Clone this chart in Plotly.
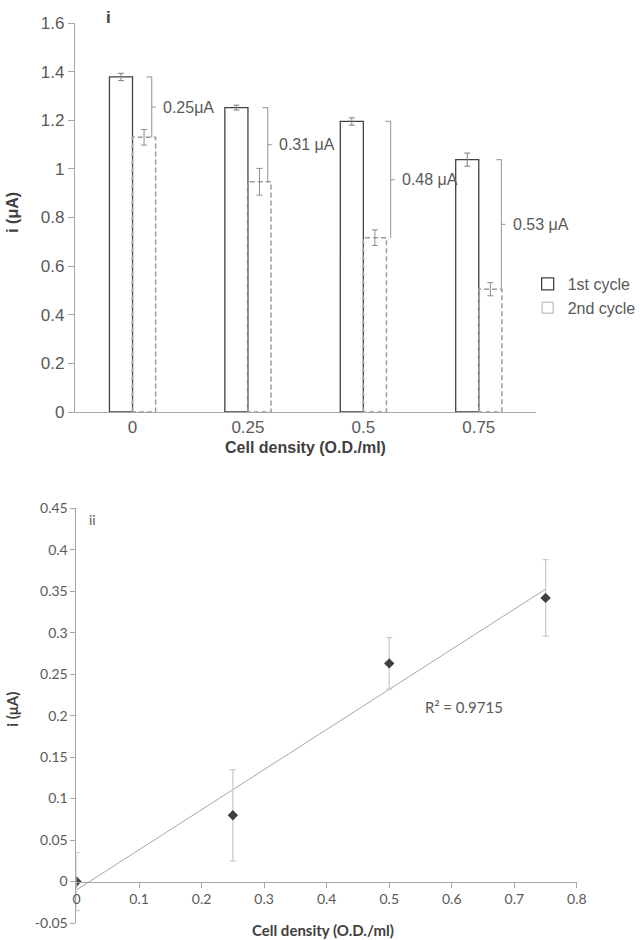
import numpy as np
import plotly.graph_objects as go

# panel i: current for two cycles at each cell density
densities = ["0", "0.25", "0.5", "0.75"]
first_cycle = [1.378, 1.252, 1.195, 1.038]
first_err = [0.015, 0.01, 0.015, 0.027]
second_cycle = [1.13, 0.947, 0.717, 0.505]
second_err = [0.032, 0.055, 0.032, 0.027]
drop_labels = ["0.25μA", "0.31 μA", "0.48 μA", "0.53 μA"]
bracket_pos = [0.166, 0.171, 0.236, 0.196]

# panel ii: current drop vs cell density
od = [0, 0.25, 0.5, 0.75]
signal = [0.0, 0.08, 0.263, 0.342]
signal_err = [0.035, 0.055, 0.031, 0.046]
y2_ticks = [-0.05, 0, 0.05, 0.1, 0.15, 0.2, 0.25, 0.3, 0.35, 0.4, 0.45]
y2_text = ["-0.05", "0", "0.05", "0.1", "0.15", "0.2", "0.25", "0.3", "0.35", "0.4", "0.45"]
r2_text = "R² = 0.9715"

W, H = 641, 940
TXT = "#595959"
AX = "#a6a6a6"
ARIAL = "Liberation Sans"
CALIBRI = "Lato"


def px(x):
    return x / W


def py(y):
    return 1 - y / H


pos = np.arange(len(densities))
fig = go.Figure()

fig.add_trace(go.Bar(
    x=pos - 0.1, y=first_cycle, width=0.2, name="1st cycle",
    marker=dict(color="white", line=dict(color="#404040", width=1.3)),
    error_y=dict(type="data", array=first_err, color="#7f7f7f", thickness=1, width=3),
    xaxis="x", yaxis="y",
))

# dashed outline for 2nd cycle bars
ox, oy = [], []
for p, v in zip(pos, second_cycle):
    ox += [p, p, p + 0.2, p + 0.2, p, None]
    oy += [0, v, v, 0, 0, None]
fig.add_trace(go.Scatter(
    x=ox, y=oy, mode="lines", showlegend=False, hoverinfo="skip",
    line=dict(color="#9a9a9a", width=1.5, dash="5px,3px"),
    xaxis="x", yaxis="y",
))
fig.add_trace(go.Scatter(
    x=pos + 0.1, y=second_cycle, mode="markers", showlegend=False,
    marker=dict(size=1, color="rgba(0,0,0,0)"),
    error_y=dict(type="data", array=second_err, color="#8c8c8c", thickness=1, width=3),
    xaxis="x", yaxis="y",
))
fig.add_trace(go.Scatter(
    x=[None], y=[None], mode="markers", name="2nd cycle",
    marker=dict(symbol="square-open", size=11, color="#b0b0b0", line=dict(width=1)),
    xaxis="x", yaxis="y",
))

# brackets showing the drop between cycles
bx, by = [], []
for p, off, top, bot in zip(pos, bracket_pos, first_cycle, second_cycle):
    xb = p + off
    mid = (top + bot) / 2
    bx += [xb - 0.045, xb, xb, None, xb, xb + 0.035, None]
    by += [top, top, bot, None, mid, mid, None]
    fig.add_annotation(
        x=xb + 0.08, y=mid, text=drop_labels[p], showarrow=False,
        xanchor="left", yanchor="middle", xref="x", yref="y",
        font=dict(family=ARIAL, size=16, color=TXT),
    )
fig.add_trace(go.Scatter(
    x=bx, y=by, mode="lines", showlegend=False, hoverinfo="skip",
    line=dict(color="#a6a6a6", width=1.2), xaxis="x", yaxis="y",
))

# panel ii
coef = np.polyfit(od, signal, 1)
fit_x = np.array([min(od), max(od)])
fig.add_trace(go.Scatter(
    x=fit_x, y=np.polyval(coef, fit_x), mode="lines", showlegend=False,
    line=dict(color="#a6a6a6", width=1), xaxis="x2", yaxis="y2",
))
fig.add_trace(go.Scatter(
    x=od, y=signal, mode="markers", showlegend=False,
    marker=dict(symbol="diamond", size=8, color="#404040"),
    error_y=dict(type="data", array=signal_err, color="#c8c8c8", thickness=1.2, width=3),
    xaxis="x2", yaxis="y2",
))

y2_dom = [py(923), py(508.3)]
x2_pos = y2_dom[0] + (0 - y2_ticks[0]) / (y2_ticks[-1] - y2_ticks[0]) * (y2_dom[1] - y2_dom[0])

fig.update_layout(
    width=W, height=H, template="none",
    margin=dict(l=0, r=0, t=0, b=0),
    plot_bgcolor="white", paper_bgcolor="white",
    barmode="overlay",
    legend=dict(x=px(536), y=py(267), xanchor="left", yanchor="top",
                font=dict(family=ARIAL, size=16, color=TXT),
                bgcolor="rgba(0,0,0,0)", tracegroupgap=0),
    xaxis=dict(domain=[px(76), px(545)], anchor="y", range=[-0.5, 3.5],
               tickvals=list(pos), ticktext=densities, ticks="",
               showline=True, linecolor=AX, linewidth=1, showgrid=False,
               zeroline=False, automargin=False,
               tickfont=dict(family=ARIAL, size=17, color=TXT)),
    yaxis=dict(domain=[py(412), py(23)], anchor="x", range=[0, 1.6], dtick=0.2,
               ticks="outside", ticklen=6, tickcolor=AX,
               showline=True, linecolor=AX, linewidth=1, showgrid=False,
               zeroline=False, automargin=False,
               tickfont=dict(family=ARIAL, size=17, color=TXT)),
    xaxis2=dict(domain=[px(77.7), px(586)], anchor="free", position=x2_pos,
                range=[0, 0.8], dtick=0.1, ticks="outside", ticklen=5, tickcolor=AX,
                showline=True, linecolor=AX, linewidth=1, showgrid=False,
                zeroline=False, automargin=False,
                tickfont=dict(family=CALIBRI, size=14, color=TXT)),
    yaxis2=dict(domain=y2_dom, anchor="x2", range=[y2_ticks[0], y2_ticks[-1]],
                tickvals=y2_ticks, ticktext=y2_text,
                ticks="outside", ticklen=5, tickcolor=AX,
                showline=True, linecolor=AX, linewidth=1, showgrid=False,
                zeroline=False, automargin=False,
                tickfont=dict(family=CALIBRI, size=14, color=TXT)),
)

labels = [
    (px(310), py(447), "<b>Cell density (O.D./ml)</b>", ARIAL, 16, 0),
    (px(12), py(212), "<b>i (μA)</b>", ARIAL, 16, -90),
    (px(110), py(18), "<b>i</b>", ARIAL, 17, 0),
    (px(328), py(930), "<b>Cell density (O.D./ml)</b>", CALIBRI, 15, 0),
    (px(12), py(709), "<b>i (μA)</b>", CALIBRI, 15, -90),
    (px(94), py(519), "ii", CALIBRI, 14, 0),
]
for x, y, t, fam, size, ang in labels:
    fig.add_annotation(x=x, y=y, xref="paper", yref="paper", text=t,
                       showarrow=False, textangle=ang,
                       xanchor="center", yanchor="middle",
                       font=dict(family=fam, size=size, color="#404040" if t.startswith("<b>") else TXT))

fig.add_annotation(x=0.62, y=0.211, xref="x2", yref="y2", text=r2_text,
                   showarrow=False, xanchor="center", yanchor="middle",
                   font=dict(family=CALIBRI, size=15, color=TXT))

# the page's default body margin would shift the figure by 8px
fig.write_html("out.html", config={"displayModeBar": False},
               post_script="document.body.style.margin = '0px';")
